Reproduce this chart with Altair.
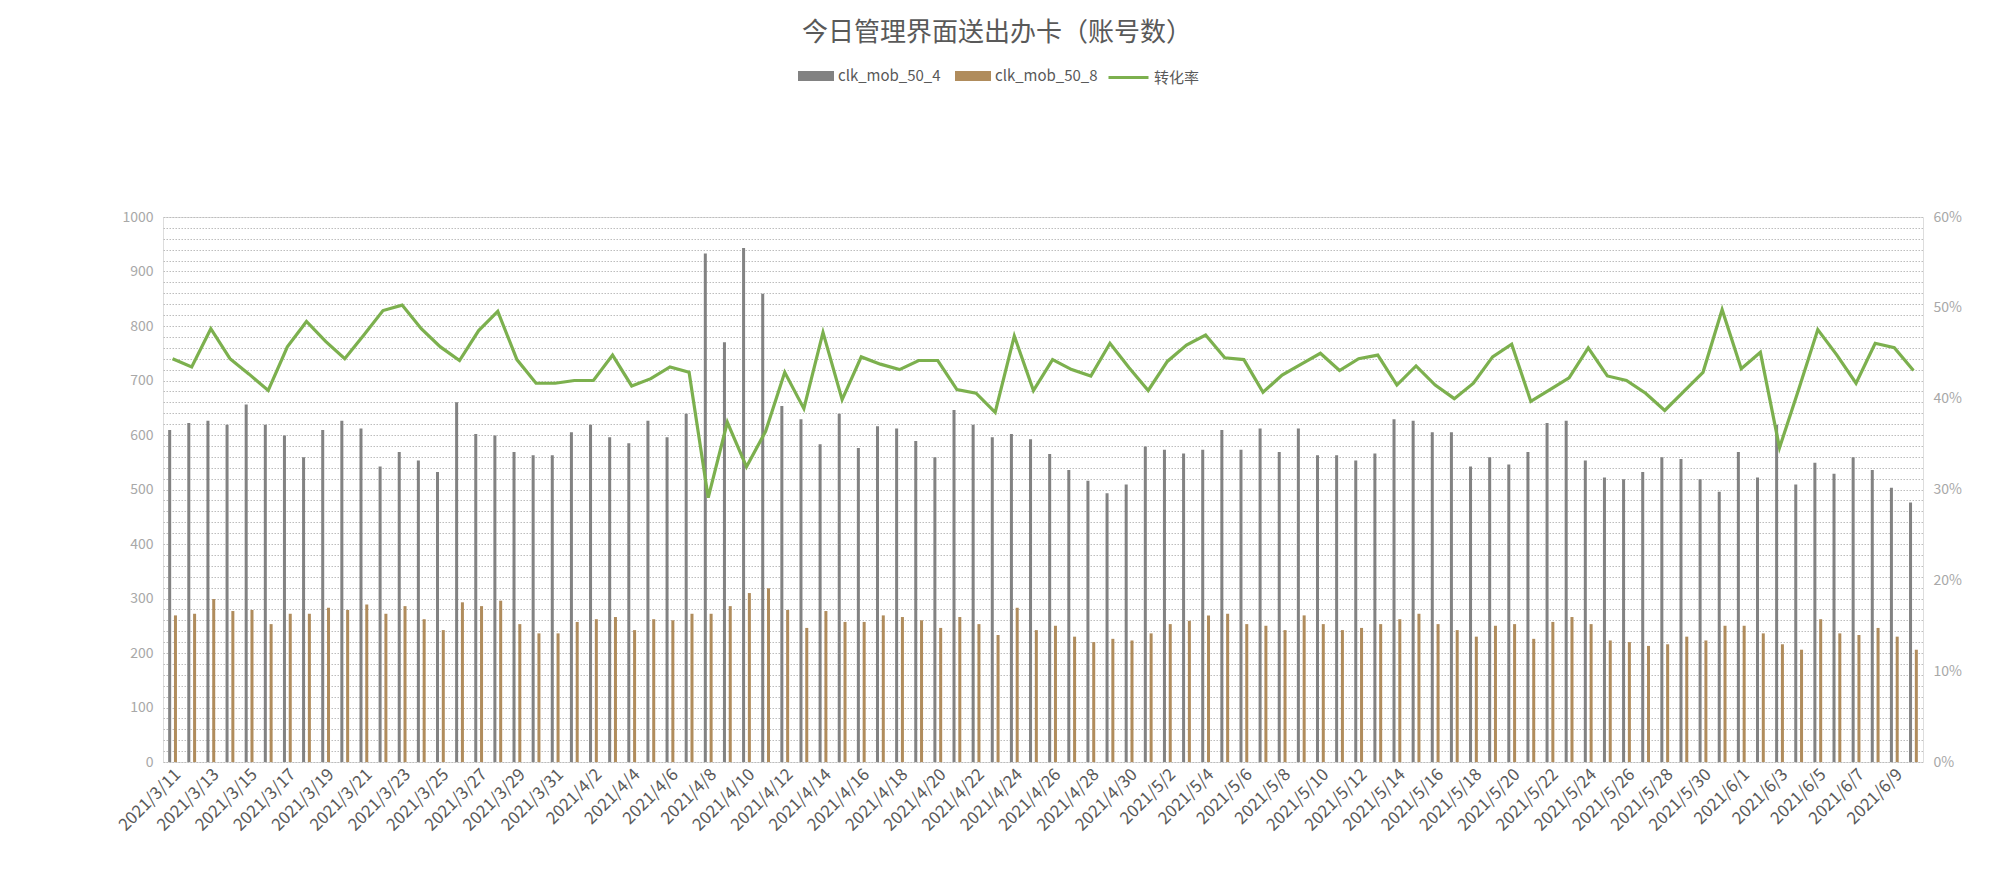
import altair as alt
import pandas as pd

dates = (["2021/3/%d" % d for d in range(11, 32)]
         + ["2021/4/%d" % d for d in range(1, 31)]
         + ["2021/5/%d" % d for d in range(1, 32)]
         + ["2021/6/%d" % d for d in range(1, 11)])

clk_mob_50_4 = [609, 622, 626, 619, 656, 619, 599, 559, 609, 626,
                612, 542, 569, 553, 532, 660, 602, 599, 569, 563,
                563, 605, 619, 596, 585, 626, 596, 639, 933, 770,
                943, 859, 653, 629, 583, 639, 576, 616, 612, 589,
                559, 646, 619, 596, 602, 592, 565, 536, 516, 493,
                509, 579, 573, 566, 573, 609, 573, 612, 569, 612,
                563, 563, 553, 566, 629, 626, 605, 605, 542, 559,
                546, 569, 622, 626, 553, 522, 519, 532, 559, 556,
                519, 496, 569, 522, 619, 509, 549, 529, 559, 536,
                503, 476]

clk_mob_50_8 = [269, 272, 299, 277, 279, 253, 272, 272, 283, 279,
                289, 272, 286, 262, 242, 293, 286, 296, 253, 236,
                236, 257, 262, 266, 242, 262, 260, 272, 272, 286,
                310, 319, 279, 246, 277, 257, 257, 269, 266, 260,
                246, 266, 253, 233, 283, 242, 250, 230, 220, 226,
                223, 236, 253, 259, 269, 272, 253, 250, 242, 269,
                253, 242, 246, 253, 262, 272, 253, 242, 230, 250,
                253, 226, 257, 266, 253, 223, 220, 213, 216, 230,
                223, 250, 250, 236, 216, 206, 262, 236, 233, 246,
                230, 206]

conversion_rate = [0.444, 0.435, 0.477, 0.444, 0.427, 0.409, 0.457, 0.485, 0.463, 0.444,
                   0.470, 0.497, 0.503, 0.477, 0.457, 0.442, 0.475, 0.496, 0.443, 0.417,
                   0.417, 0.420, 0.420, 0.448, 0.414, 0.422, 0.435, 0.429, 0.291, 0.374,
                   0.325, 0.364, 0.429, 0.389, 0.473, 0.399, 0.446, 0.438, 0.432, 0.442,
                   0.442, 0.410, 0.406, 0.385, 0.469, 0.409, 0.443, 0.432, 0.425, 0.461,
                   0.434, 0.409, 0.441, 0.459, 0.470, 0.445, 0.443, 0.407, 0.426, 0.438,
                   0.450, 0.431, 0.444, 0.448, 0.415, 0.436, 0.415, 0.400, 0.417, 0.446,
                   0.460, 0.397, 0.410, 0.423, 0.456, 0.425, 0.420, 0.406, 0.387, 0.408,
                   0.429, 0.498, 0.433, 0.451, 0.346, 0.410, 0.476, 0.448, 0.417, 0.461,
                   0.456, 0.431]

bar_series = ["clk_mob_50_4", "clk_mob_50_8"]
line_series = ["转化率"]
x_tick_labels = dates[::2]
left_ticks = list(range(0, 1001, 20))
right_ticks = [0, 0.1, 0.2, 0.3, 0.4, 0.5, 0.6]
title_text = "今日管理界面送出办卡（账号数）"

GRAY = "#828282"
BROWN = "#b08c5c"
GREEN = "#7cb04e"
TEXT = "#595959"
FONT = "Noto Sans CJK SC"

n = len(dates)
bar_df = pd.DataFrame({
    "date": dates * 2,
    "series": [bar_series[0]] * n + [bar_series[1]] * n,
    "value": clk_mob_50_4 + clk_mob_50_8,
})
line_df = pd.DataFrame({
    "date": dates,
    "idx": list(range(n)),
    "rate": conversion_rate,
    "series": line_series * n,
})

x_scale = alt.Scale(domain=dates, paddingInner=0.54, paddingOuter=0.27)


def x_axis():
    return alt.Axis(values=x_tick_labels, labelAngle=-45, title=None, domain=False,
                    ticks=False, grid=False, labelFont=FONT, labelFontSize=17,
                    labelColor=TEXT, labelPadding=4, labelOverlap=False)


bars = alt.Chart(bar_df).mark_bar().encode(
    x=alt.X("date:N", scale=x_scale, axis=x_axis(), title=None),
    xOffset=alt.XOffset("series:N", scale=alt.Scale(domain=bar_series, paddingInner=0.48, paddingOuter=0)),
    y=alt.Y("value:Q", scale=alt.Scale(domain=[0, 1000], nice=False),
            axis=alt.Axis(values=left_ticks, title=None, domain=False, ticks=False,
                          grid=True, gridDash=[1.5, 1.5], gridColor="#bdbdbd", gridWidth=1,
                          format="d",
                          labelExpr="datum.value % 100 === 0 ? datum.label : ''",
                          labelOverlap=False, labelFont=FONT, labelFontSize=14,
                          labelColor="#a8a8a8", labelPadding=10)),
    color=alt.Color("series:N", scale=alt.Scale(domain=bar_series, range=[GRAY, BROWN]),
                    legend=alt.Legend(orient="none", legendX=643, legendY=-151,
                                      direction="horizontal", title=None,
                                      symbolType="M-1.8,-0.5H1.8V0.5H-1.8Z", symbolSize=400,
                                      symbolStrokeWidth=0, labelOffset=12, columnPadding=14,
                                      labelFont=FONT, labelFontSize=15, labelColor=TEXT)),
)

line = alt.Chart(line_df).mark_line(strokeWidth=3.2).encode(
    x=alt.X("date:N", scale=x_scale, axis=x_axis(), title=None),
    y=alt.Y("rate:Q", scale=alt.Scale(domain=[0, 0.6], nice=False),
            axis=alt.Axis(orient="right", values=right_ticks, format=".0%", title=None,
                          grid=False, domain=False, ticks=False, labelFont=FONT,
                          labelFontSize=14, labelColor="#a8a8a8", labelPadding=10)),
    order=alt.Order("idx:Q"),
    stroke=alt.Stroke("series:N", scale=alt.Scale(domain=line_series, range=[GREEN]),
                      legend=alt.Legend(orient="none", legendX=944, legendY=-161,
                                        direction="horizontal", title=None,
                                        symbolType="stroke", symbolSize=1600,
                                        symbolStrokeWidth=3, labelOffset=4,
                                        labelFont=FONT, labelFontSize=15, labelColor=TEXT)),
)

chart = alt.layer(bars, line).resolve_scale(
    y="independent", color="independent"
).properties(
    width=1760,
    height=545,
    title=alt.TitleParams(title_text, font=FONT, fontSize=26, fontWeight="normal",
                          color=TEXT, anchor="middle", dx=-46, offset=10),
    padding={"left": 155, "top": 209, "right": 69, "bottom": 111},
    autosize=alt.AutoSizeParams(type="none"),
).configure_view(stroke=None).configure(background="white")

chart.save("out.html", embed_options={"renderer": "svg", "actions": False})
